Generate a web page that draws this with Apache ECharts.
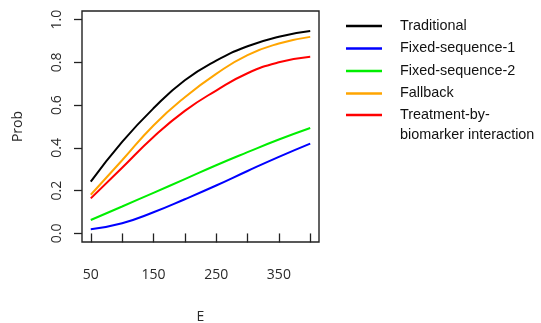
<!DOCTYPE html>
<html>
<head>
<meta charset="utf-8">
<title>Prob vs E</title>
<script src="https://cdn.jsdelivr.net/npm/echarts@6.0.0/dist/echarts.min.js"></script>
<style>
  html, body { margin: 0; padding: 0; background: #fff; }
  #chart { width: 541px; height: 323px; }
</style>
</head>
<body>
<div id="chart"></div>
<script>
// values, at E = 50, 100, ..., 400
var eValues = [50, 100, 150, 200, 250, 300, 350, 400];
var traditional = [0.242, 0.428, 0.585, 0.716, 0.808, 0.875, 0.920, 0.946];
var fixedSeq1 = [0.020, 0.048, 0.099, 0.160, 0.224, 0.292, 0.358, 0.420];
var fixedSeq2 = [0.063, 0.126, 0.190, 0.254, 0.319, 0.380, 0.439, 0.493];
var fallback = [0.181, 0.342, 0.505, 0.637, 0.746, 0.834, 0.888, 0.919];
var txBiomarker = [0.164, 0.307, 0.451, 0.573, 0.668, 0.749, 0.800, 0.826];

var xTicks = [50, 100, 150, 200, 250, 300, 350, 400];
var xLabels = [50, 150, 250, 350];
var yTicks = [0, 0.2, 0.4, 0.6, 0.8, 1.0];

var names = ['Traditional', 'Fixed-sequence-1', 'Fixed-sequence-2', 'Fallback', 'Treatment-by-\nbiomarker interaction'];
var colors = ['#000000', '#0000ff', '#00ee00', '#ffa500', '#ff0000'];
var allValues = [traditional, fixedSeq1, fixedSeq2, fallback, txBiomarker];

function pairs(vals) {
  var out = [];
  for (var i = 0; i < eValues.length; i++) out.push([eValues[i], vals[i]]);
  return out;
}

var chart = echarts.init(document.getElementById('chart'), null, { renderer: 'canvas' });

var series = [];
for (var i = 0; i < names.length; i++) {
  series.push({
    name: names[i],
    type: 'line',
    data: pairs(allValues[i]),
    smooth: 0.5,
    symbol: 'none',
    color: colors[i],
    lineStyle: { width: 2, color: colors[i] }
  });
}

var legendBase = {
  orient: 'vertical',
  left: 346,
  icon: 'rect',
  itemWidth: 36,
  itemHeight: 2.3,
  itemGap: 2.5,
  padding: 0,
  textStyle: {
    fontFamily: 'Liberation Sans', fontSize: 14.4, color: '#111',
    lineHeight: 20, padding: [0, 0, 0, 13]
  }
};

var tickStyle = { color: '#222', width: 1.3 };
var axisFont = { fontFamily: 'Open Sans', fontSize: 14, color: '#2a2a2a' };

chart.setOption({
  animation: false,
  backgroundColor: '#fff',
  grid: {
    left: 82, right: 222, top: 11, bottom: 81,
    show: true, borderColor: '#222', borderWidth: 1.4,
    outerBoundsMode: 'none'
  },
  legend: [
    Object.assign({ top: 16, data: names.slice(0, 4) }, legendBase),
    // the two-line label: a blank first line keeps the line icon level with "Treatment-by-"
    Object.assign({
      top: 85,
      data: names.slice(4),
      formatter: function (n) { return '\n' + n; }
    }, legendBase)
  ],
  xAxis: {
    type: 'value',
    min: 36,
    max: 414,
    name: 'E',
    nameLocation: 'middle',
    nameGap: 68,
    nameTextStyle: { fontFamily: 'Open Sans', fontSize: 14, color: '#2a2a2a' },
    axisLine: { show: false },
    splitLine: { show: false },
    axisTick: { show: true, length: 9, customValues: xTicks, lineStyle: tickStyle },
    axisLabel: Object.assign({ customValues: xLabels, margin: 26 }, axisFont)
  },
  yAxis: {
    type: 'value',
    min: -0.04,
    max: 1.04,
    name: 'Prob',
    nameLocation: 'middle',
    nameRotate: 90,
    nameGap: 57,
    nameTextStyle: { fontFamily: 'Open Sans', fontSize: 14, color: '#2a2a2a' },
    axisLine: { show: false },
    splitLine: { show: false },
    axisTick: { show: true, length: 8, customValues: yTicks, lineStyle: tickStyle },
    axisLabel: Object.assign({
      customValues: yTicks,
      rotate: 90,
      margin: 18,
      formatter: function (v) { return v.toFixed(1); }
    }, axisFont)
  },
  series: series
});
</script>
</body>
</html>
